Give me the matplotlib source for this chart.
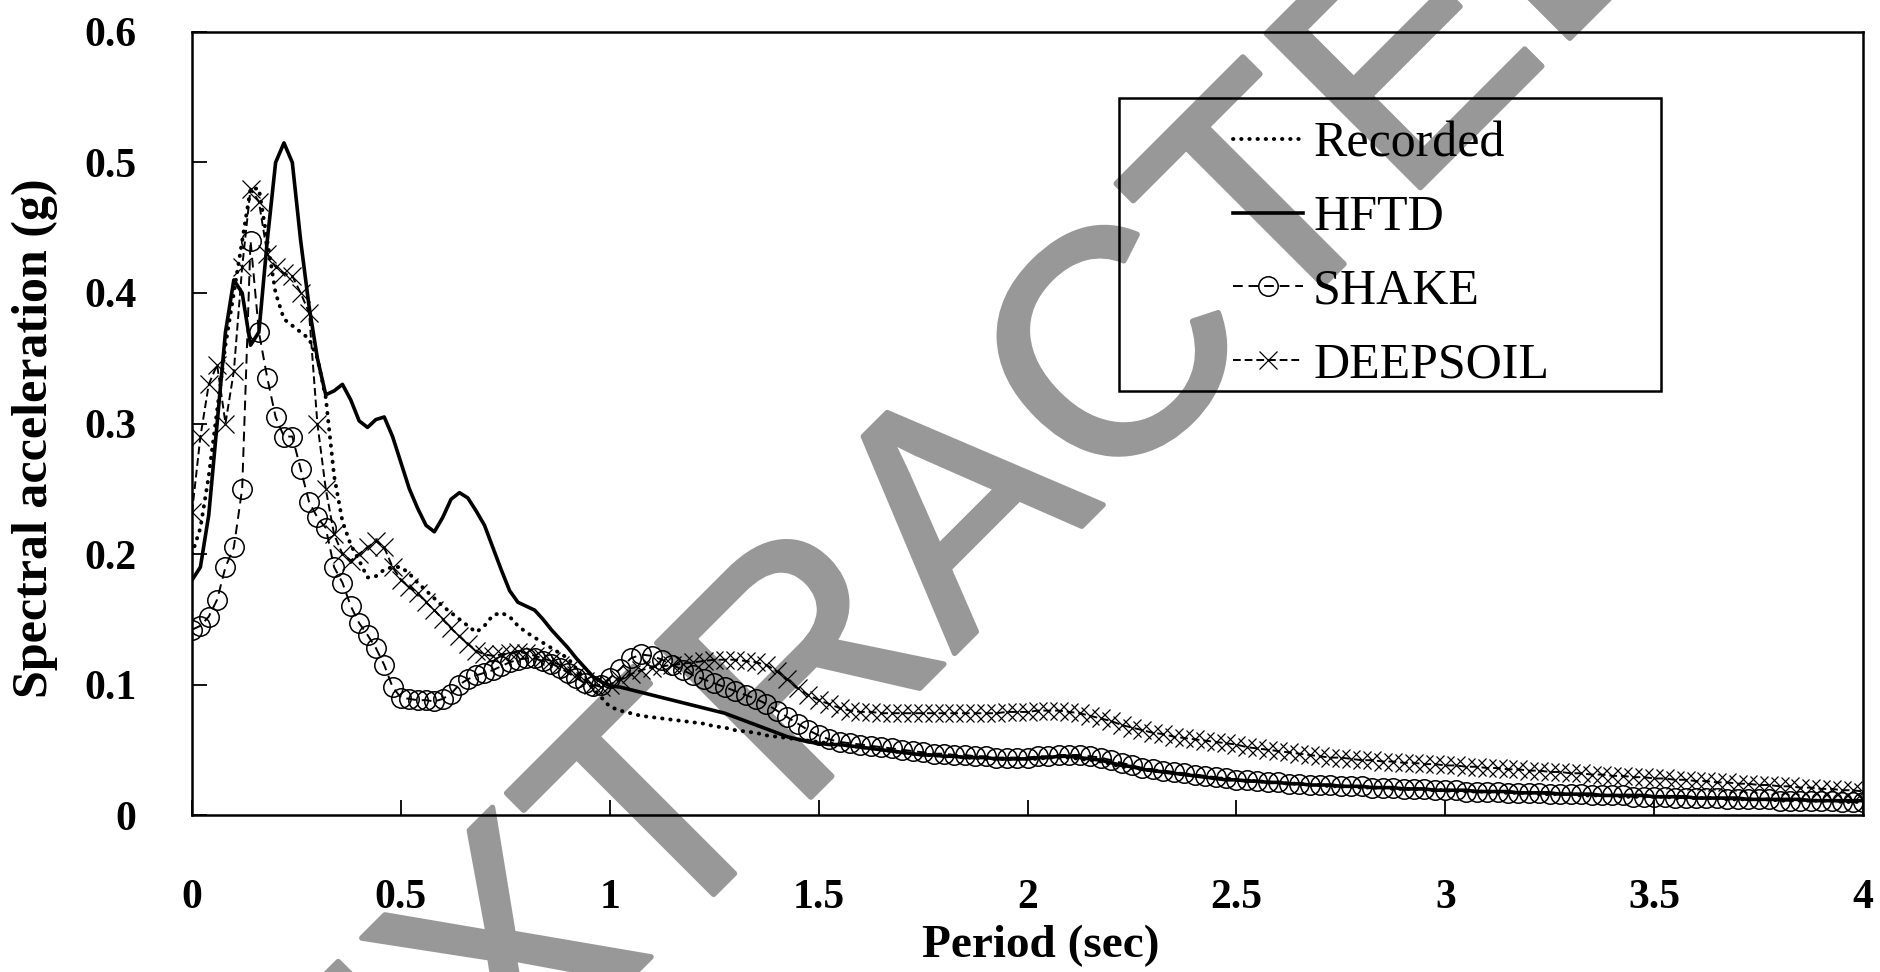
import matplotlib.pyplot as plt
import matplotlib.patheffects as pe
import numpy as np
from matplotlib.patches import Rectangle

plt.rcParams['font.family'] = ['Liberation Serif', 'DejaVu Serif']

## donnees : periode (s) -> pas 0.02 s jusqu'a 1 s puis 0.025 s jusqu'a 4 s
periode = np.round(np.concatenate([np.arange(0, 1.0001, 0.02),
                                   np.arange(1.025, 4.0001, 0.025)]), 3)

# spectres (g)
recorded = [0.20, 0.22, 0.26, 0.31, 0.36, 0.40, 0.44, 0.48, 0.48, 0.44,
            0.40, 0.38, 0.375, 0.37, 0.365, 0.35, 0.32, 0.26, 0.225, 0.207,
            0.195, 0.182, 0.183, 0.188, 0.19, 0.19, 0.185, 0.178, 0.172, 0.166,
            0.16, 0.155, 0.15, 0.145, 0.14, 0.145, 0.153, 0.155, 0.152, 0.145,
            0.14, 0.136, 0.132, 0.128, 0.124, 0.12, 0.112, 0.104, 0.097, 0.09,
            0.083,
            0.080, 0.078, 0.076, 0.075, 0.074, 0.073, 0.072, 0.071,
            0.070, 0.068, 0.067, 0.065, 0.064, 0.063, 0.061, 0.060,
            0.059, 0.058, 0.057, 0.056, 0.055, 0.054, 0.053, 0.052,
            0.051, 0.050, 0.049, 0.048, 0.047, 0.046, 0.046, 0.045,
            0.045, 0.044, 0.044, 0.043, 0.043, 0.043, 0.043, 0.043,
            0.043, 0.044, 0.044, 0.044, 0.043, 0.042, 0.041, 0.039,
            0.037, 0.036, 0.035, 0.034, 0.033, 0.032, 0.031, 0.030,
            0.029, 0.028, 0.028, 0.027, 0.026, 0.026, 0.025, 0.025,
            0.024, 0.024, 0.023, 0.023, 0.022, 0.022, 0.022, 0.021,
            0.021, 0.021, 0.020, 0.020, 0.020, 0.019, 0.019, 0.019,
            0.018, 0.018, 0.018, 0.018, 0.017, 0.017, 0.017, 0.017,
            0.016, 0.016, 0.016, 0.016, 0.015, 0.015, 0.015, 0.015,
            0.014, 0.014, 0.014, 0.014, 0.014, 0.013, 0.013, 0.013,
            0.013, 0.013, 0.012, 0.012, 0.012, 0.012, 0.012, 0.011,
            0.011, 0.011, 0.011, 0.011, 0.011, 0.010, 0.010, 0.010]

hftd = [0.18, 0.19, 0.23, 0.30, 0.37, 0.41, 0.40, 0.36, 0.37, 0.44,
        0.50, 0.515, 0.50, 0.44, 0.39, 0.35, 0.322, 0.325, 0.33, 0.318,
        0.302, 0.297, 0.303, 0.305, 0.29, 0.27, 0.25, 0.235, 0.222, 0.217,
        0.228, 0.242, 0.247, 0.243, 0.233, 0.222, 0.205, 0.188, 0.172, 0.163,
        0.16, 0.157, 0.15, 0.142, 0.135, 0.128, 0.12, 0.113, 0.106, 0.102,
        0.099,
        0.098, 0.096, 0.094, 0.092, 0.090, 0.088, 0.086, 0.084,
        0.082, 0.080, 0.078, 0.075, 0.072, 0.069, 0.066, 0.063,
        0.060, 0.058, 0.056, 0.055, 0.054, 0.054, 0.053, 0.052,
        0.051, 0.050, 0.049, 0.048, 0.047, 0.046, 0.046, 0.045,
        0.045, 0.044, 0.044, 0.044, 0.043, 0.043, 0.043, 0.043,
        0.044, 0.044, 0.045, 0.045, 0.044, 0.043, 0.042, 0.040,
        0.038, 0.037, 0.035, 0.034, 0.033, 0.032, 0.031, 0.030,
        0.029, 0.028, 0.027, 0.027, 0.026, 0.026, 0.025, 0.025,
        0.024, 0.024, 0.023, 0.023, 0.023, 0.022, 0.022, 0.022,
        0.021, 0.021, 0.021, 0.020, 0.020, 0.020, 0.019, 0.019,
        0.019, 0.019, 0.018, 0.018, 0.018, 0.018, 0.017, 0.017,
        0.017, 0.017, 0.016, 0.016, 0.016, 0.016, 0.015, 0.015,
        0.015, 0.015, 0.015, 0.014, 0.014, 0.014, 0.014, 0.013,
        0.013, 0.013, 0.013, 0.013, 0.012, 0.012, 0.012, 0.012,
        0.012, 0.012, 0.011, 0.011, 0.011, 0.011, 0.011, 0.011]

shake = [0.142, 0.145, 0.152, 0.165, 0.19, 0.205, 0.25, 0.44, 0.37, 0.335,
         0.305, 0.29, 0.29, 0.265, 0.24, 0.228, 0.22, 0.19, 0.178, 0.16,
         0.147, 0.138, 0.128, 0.115, 0.098, 0.09, 0.089, 0.088, 0.088, 0.087,
         0.089, 0.093, 0.10, 0.104, 0.107, 0.109, 0.111, 0.114, 0.117, 0.119,
         0.12, 0.12, 0.118, 0.116, 0.113, 0.109, 0.105, 0.101, 0.099, 0.10,
         0.105,
         0.112, 0.120, 0.123, 0.122, 0.119, 0.115, 0.111, 0.107,
         0.104, 0.101, 0.098, 0.095, 0.092, 0.089, 0.085, 0.080,
         0.075, 0.070, 0.065, 0.061, 0.058, 0.056, 0.055, 0.054,
         0.053, 0.052, 0.051, 0.050, 0.049, 0.048, 0.047, 0.047,
         0.046, 0.046, 0.045, 0.045, 0.044, 0.044, 0.044, 0.044,
         0.045, 0.045, 0.046, 0.046, 0.046, 0.045, 0.044, 0.042,
         0.040, 0.038, 0.036, 0.035, 0.034, 0.033, 0.032, 0.031,
         0.030, 0.029, 0.028, 0.027, 0.027, 0.026, 0.025, 0.025,
         0.024, 0.024, 0.023, 0.023, 0.023, 0.022, 0.022, 0.022,
         0.021, 0.021, 0.021, 0.020, 0.020, 0.020, 0.019, 0.019,
         0.019, 0.018, 0.018, 0.018, 0.018, 0.017, 0.017, 0.017,
         0.017, 0.016, 0.016, 0.016, 0.016, 0.015, 0.015, 0.015,
         0.015, 0.014, 0.014, 0.014, 0.014, 0.013, 0.013, 0.013,
         0.013, 0.013, 0.012, 0.012, 0.012, 0.012, 0.012, 0.011,
         0.011, 0.011, 0.011, 0.011, 0.011, 0.010, 0.010, 0.010]

deepsoil = [0.232, 0.29, 0.33, 0.345, 0.30, 0.34, 0.42, 0.48, 0.47, 0.43,
            0.42, 0.415, 0.413, 0.40, 0.385, 0.30, 0.25, 0.215, 0.20, 0.195,
            0.20, 0.205, 0.21, 0.205, 0.19, 0.18, 0.175, 0.17, 0.163, 0.157,
            0.15, 0.143, 0.137, 0.131, 0.126, 0.123, 0.122, 0.123, 0.124, 0.125,
            0.124, 0.122, 0.12, 0.118, 0.115, 0.111, 0.107, 0.103, 0.10, 0.098,
            0.10,
            0.104, 0.108, 0.111, 0.113, 0.114, 0.115, 0.116, 0.117,
            0.118, 0.119, 0.119, 0.119, 0.118, 0.117, 0.115, 0.110,
            0.104, 0.097, 0.092, 0.088, 0.085, 0.082, 0.080, 0.079,
            0.079, 0.078, 0.078, 0.078, 0.078, 0.078, 0.078, 0.078,
            0.078, 0.078, 0.078, 0.078, 0.078, 0.079, 0.079, 0.079,
            0.080, 0.080, 0.080, 0.079, 0.078, 0.076, 0.074, 0.072,
            0.069, 0.067, 0.065, 0.063, 0.062, 0.060, 0.059, 0.058,
            0.057, 0.056, 0.055, 0.054, 0.052, 0.051, 0.050, 0.049,
            0.048, 0.047, 0.046, 0.045, 0.044, 0.044, 0.043, 0.042,
            0.042, 0.041, 0.041, 0.040, 0.040, 0.039, 0.039, 0.038,
            0.038, 0.037, 0.037, 0.036, 0.036, 0.035, 0.035, 0.034,
            0.034, 0.033, 0.033, 0.032, 0.032, 0.031, 0.031, 0.030,
            0.030, 0.029, 0.029, 0.028, 0.028, 0.027, 0.027, 0.026,
            0.026, 0.025, 0.025, 0.024, 0.024, 0.023, 0.023, 0.022,
            0.022, 0.021, 0.021, 0.020, 0.020, 0.019, 0.019, 0.018]

xticks = [0, 0.5, 1, 1.5, 2, 2.5, 3, 3.5, 4]
xlabels = ['0', '0.5', '1', '1.5', '2', '2.5', '3', '3.5', '4']
yticks = [0, 0.1, 0.2, 0.3, 0.4, 0.5, 0.6]
ylabels = ['0', '0.1', '0.2', '0.3', '0.4', '0.5', '0.6']

## dessin
fig = plt.figure(figsize=(18.81, 9.72), dpi=100)
ax = fig.add_axes([0.1021, 0.1615, 0.8884, 0.8056])

ax.plot(periode, recorded, color='black', lw=2.8, linestyle=(0, (0.1, 2.0)),
        dash_capstyle='round', label='Recorded', zorder=3)
ax.plot(periode, hftd, color='black', lw=2.6, label='HFTD', zorder=4)
ax.plot(periode, shake, color='black', lw=1.4, linestyle=(0, (5, 3)),
        marker='o', markersize=14, markerfacecolor='none', markeredgewidth=1.1,
        label='SHAKE', zorder=2)
ax.plot(periode, deepsoil, color='black', lw=1.4, linestyle=(0, (4, 2)),
        marker='x', markersize=13, markeredgewidth=0.9,
        label='DEEPSOIL', zorder=2)

ax.set_xlim(0, 4)
ax.set_ylim(0, 0.6)
ax.set_xticks(xticks)
ax.set_xticklabels(xlabels)
ax.set_yticks(yticks)
ax.set_yticklabels(ylabels)
for lab in ax.get_xticklabels() + ax.get_yticklabels():
    lab.set_fontweight('bold')
ax.tick_params(axis='both', direction='in', length=11, width=1.3,
               labelsize=30, colors='black')
ax.tick_params(axis='x', pad=46)
ax.tick_params(axis='y', pad=40)
for s in ax.spines.values():
    s.set_linewidth(1.8)
    s.set_color('black')

ax.set_xlabel('Period (sec)', fontsize=34, fontweight='bold')
ax.set_ylabel('Spectral acceleration (g)', fontsize=36, fontweight='bold')
ax.xaxis.set_label_coords(0.508, -0.140)
ax.yaxis.set_label_coords(-0.080, 0.4815)

# legende sans cadre + cadre trace a part (marges inegales comme l'original)
leg = ax.legend(loc='upper left', bbox_to_anchor=(0.608, 0.918), frameon=False,
                fontsize=36, handlelength=1.4, handletextpad=0.2,
                labelspacing=0.54, borderpad=0, numpoints=1)
ax.add_patch(Rectangle((0.555, 0.5415), 0.324, 0.3745, transform=ax.transAxes,
                       fill=False, edgecolor='black', lw=1.8, zorder=5,
                       clip_on=False))

# filigrane
ax.text(0.5502, 0.4105, 'EXTRACTED', transform=fig.transFigure, rotation=45,
        rotation_mode='anchor', fontsize=228, color='#989898',
        family='Liberation Sans', ha='center', va='baseline',
        zorder=0.5, clip_on=False,
        path_effects=[pe.withStroke(linewidth=4, foreground='#989898')])

fig.savefig('out.png', dpi=100, facecolor='white')
